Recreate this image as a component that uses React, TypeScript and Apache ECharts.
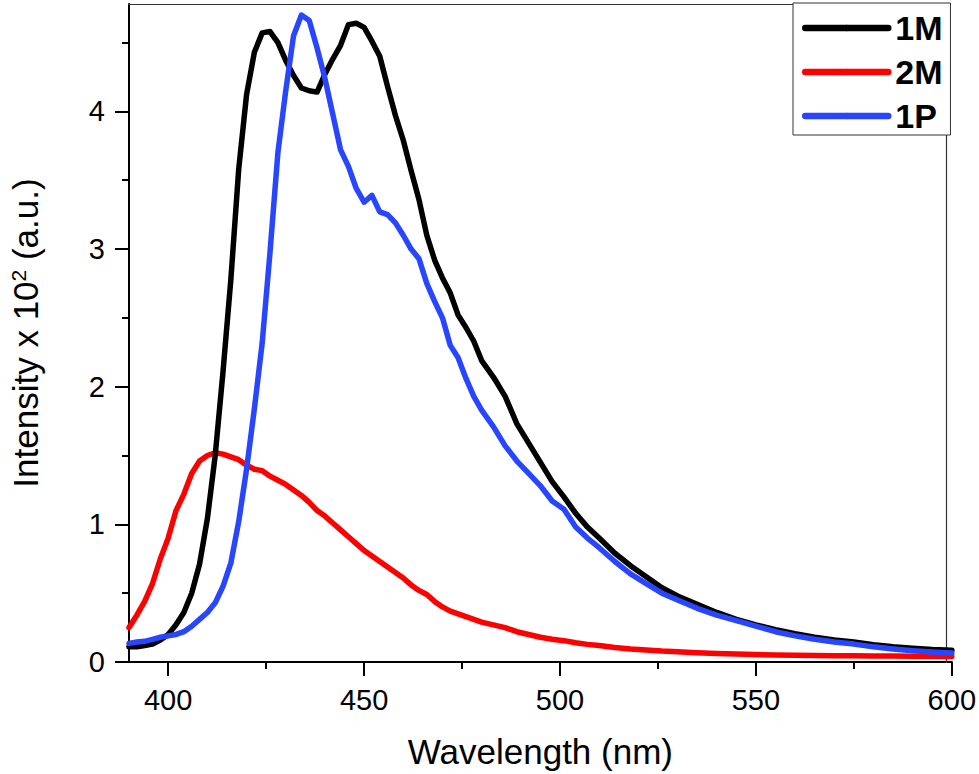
import React, { useEffect, useRef } from "react";
import * as echarts from "echarts";

const wavelengths = [
  390, 392, 394, 396, 398, 400, 402, 404, 406, 408, 410, 412, 414, 416, 418, 420, 422, 424, 426, 428,
  430, 432, 434, 436, 438, 440, 442, 444, 446, 448, 450, 452, 454, 456, 458, 460, 462, 464, 466, 468,
  470, 472, 474, 476, 478, 480, 483, 486, 489, 492, 495, 498, 501, 504, 507, 510, 514, 518, 522, 526,
  530, 535, 540, 545, 550, 555, 560, 565, 570, 575, 580, 585, 590, 595, 600,
];

const series1M = [
  0.11, 0.11, 0.12, 0.13, 0.16, 0.2, 0.27, 0.36, 0.5, 0.71, 1.04, 1.5, 2.11, 2.78, 3.58, 4.12, 4.43, 4.57, 4.58, 4.5,
  4.37, 4.26, 4.17, 4.15, 4.14, 4.27, 4.38, 4.48, 4.63, 4.64, 4.61, 4.51, 4.4, 4.18, 3.97, 3.79, 3.57, 3.36, 3.1, 2.92,
  2.79, 2.68, 2.52, 2.43, 2.33, 2.19, 2.07, 1.93, 1.73, 1.59, 1.45, 1.31, 1.2, 1.08, 0.98, 0.9, 0.79, 0.7, 0.62, 0.54,
  0.48, 0.42, 0.36, 0.31, 0.27, 0.235, 0.205, 0.18, 0.16, 0.145, 0.125, 0.11, 0.1, 0.09, 0.085,
];

const series2M = [
  0.25, 0.34, 0.44, 0.57, 0.75, 0.9, 1.1, 1.22, 1.37, 1.46, 1.5, 1.52, 1.51, 1.49, 1.47, 1.43, 1.4, 1.39, 1.35, 1.32,
  1.29, 1.25, 1.21, 1.16, 1.1, 1.06, 1.01, 0.96, 0.91, 0.86, 0.81, 0.77, 0.73, 0.69, 0.65, 0.61, 0.56, 0.52, 0.49, 0.44,
  0.4, 0.37, 0.35, 0.33, 0.31, 0.29, 0.27, 0.25, 0.22, 0.2, 0.18, 0.165, 0.155, 0.14, 0.128, 0.12, 0.105, 0.095, 0.088, 0.08,
  0.075, 0.068, 0.062, 0.058, 0.054, 0.051, 0.049, 0.047, 0.046, 0.045, 0.044, 0.043, 0.042, 0.041, 0.04,
];

const series1P = [
  0.135, 0.145, 0.15, 0.165, 0.18, 0.19, 0.2, 0.22, 0.26, 0.31, 0.36, 0.43, 0.55, 0.72, 1.02, 1.4, 1.84, 2.32, 2.98, 3.7,
  4.15, 4.55, 4.7, 4.66, 4.46, 4.24, 3.98, 3.72, 3.6, 3.44, 3.34, 3.39, 3.27, 3.25, 3.19, 3.1, 3.0, 2.93, 2.75, 2.62,
  2.5, 2.3, 2.21, 2.06, 1.93, 1.83, 1.71, 1.57, 1.46, 1.37, 1.28, 1.17, 1.11, 0.98, 0.9, 0.83, 0.73, 0.64, 0.57, 0.5,
  0.45, 0.39, 0.34, 0.3, 0.26, 0.22, 0.19, 0.165, 0.145, 0.13, 0.11, 0.095, 0.082, 0.072, 0.065,
];

const seriesNames = ["1M", "2M", "1P"];
const seriesColors = ["#000000", "#ff0000", "#2846ff"];

const xMajorTicks = [400, 450, 500, 550, 600];
const xMinorTicks = [425, 475, 525, 575];
const yMajorTicks = [0, 1, 2, 3, 4];
const yMinorTicks = [0.5, 1.5, 2.5, 3.5, 4.5];

const FONT = "'Liberation Sans', Arial, Helvetica, sans-serif";

export default function App() {
  const ref = useRef<HTMLDivElement>(null);

  useEffect(() => {
    if (!ref.current) return;
    const chart = echarts.init(ref.current, null, { renderer: "svg" });

    const xMin = 390;
    const xMax = 600;
    const yMin = 0;
    const yMax = 4.78;

    const seriesData = [series1M, series2M, series1P];
    const zOrder = [3, 2, 4];

    const axisLineStyle = { color: "#000", width: 2 };

    chart.setOption({
      animation: false,
      backgroundColor: "#ffffff",
      grid: { left: 128, right: 26, top: 4, bottom: 111, containLabel: false },
      legend: {
        data: seriesNames,
        orient: "vertical",
        left: 793,
        top: 3,
        padding: [7, 8, 1, 9],
        itemGap: 8,
        itemWidth: 83,
        itemHeight: 8,
        borderColor: "#333",
        borderWidth: 1,
        backgroundColor: "#ffffff",
        z: 10,
        lineStyle: { width: 6.5, cap: "round" },
        textStyle: {
          fontFamily: FONT,
          fontSize: 34,
          fontWeight: "bold",
          color: "#000",
          lineHeight: 36,
          padding: [0, 0, 0, 2],
        },
      },
      xAxis: [
        {
          type: "value",
          min: xMin,
          max: xMax,
          position: "bottom",
          name: "Wavelength (nm)",
          nameLocation: "middle",
          nameGap: 72,
          nameTextStyle: { fontFamily: FONT, fontSize: 35, color: "#000" },
          axisLine: { show: true, onZero: false, lineStyle: axisLineStyle },
          axisTick: { show: true, inside: false, length: 14, lineStyle: axisLineStyle, customValues: xMajorTicks },
          axisLabel: {
            show: true,
            margin: 23,
            fontFamily: FONT,
            fontSize: 29,
            color: "#000",
            customValues: xMajorTicks,
          },
          splitLine: { show: false },
        },
        {
          type: "value",
          min: xMin,
          max: xMax,
          position: "bottom",
          offset: 0,
          axisLine: { show: false },
          axisTick: { show: true, inside: false, length: 7, lineStyle: axisLineStyle, customValues: xMinorTicks },
          axisLabel: { show: false },
          splitLine: { show: false },
        },
      ],
      yAxis: [
        {
          type: "value",
          min: yMin,
          max: yMax,
          position: "left",
          name: "Intensity x 10{sup|2} (a.u.)",
          nameLocation: "middle",
          nameRotate: 90,
          nameGap: 86,
          nameTextStyle: {
            fontFamily: FONT,
            fontSize: 35,
            color: "#000",
            rich: {
              sup: { fontFamily: FONT, fontSize: 21, color: "#000", verticalAlign: "top", lineHeight: 21 },
            },
          },
          axisLine: { show: true, onZero: false, lineStyle: axisLineStyle },
          axisTick: { show: true, inside: false, length: 14, lineStyle: axisLineStyle, customValues: yMajorTicks },
          axisLabel: {
            show: true,
            margin: 24,
            fontFamily: FONT,
            fontSize: 29,
            color: "#000",
            customValues: yMajorTicks,
          },
          splitLine: { show: false },
        },
        {
          type: "value",
          min: yMin,
          max: yMax,
          position: "left",
          offset: 0,
          axisLine: { show: false },
          axisTick: { show: true, inside: false, length: 7, lineStyle: axisLineStyle, customValues: yMinorTicks },
          axisLabel: { show: false },
          splitLine: { show: false },
        },
      ],
      graphic: [
        {
          type: "line",
          z: 1,
          shape: { x1: 128, y1: 4.5, x2: 946.5, y2: 4.5 },
          style: { stroke: "#333", lineWidth: 1.2 },
        },
        {
          type: "line",
          z: 1,
          shape: { x1: 946.5, y1: 4.5, x2: 946.5, y2: 663 },
          style: { stroke: "#333", lineWidth: 1.2 },
        },
      ],
      series: seriesNames.map((name, i) => ({
        name,
        type: "line",
        xAxisIndex: 0,
        yAxisIndex: 0,
        symbol: "none",
        showSymbol: false,
        smooth: false,
        z: zOrder[i],
        color: seriesColors[i],
        lineStyle: { color: seriesColors[i], width: 5.5, cap: "round", join: "round" },
        data: wavelengths.map((w, j) => [w, seriesData[i][j]]),
      })),
    });

    return () => {
      chart.dispose();
    };
  }, []);

  return (
    <div
      ref={ref}
      style={{ position: "absolute", left: 0, top: 0, width: 979, height: 774, background: "#fff" }}
    />
  );
}
